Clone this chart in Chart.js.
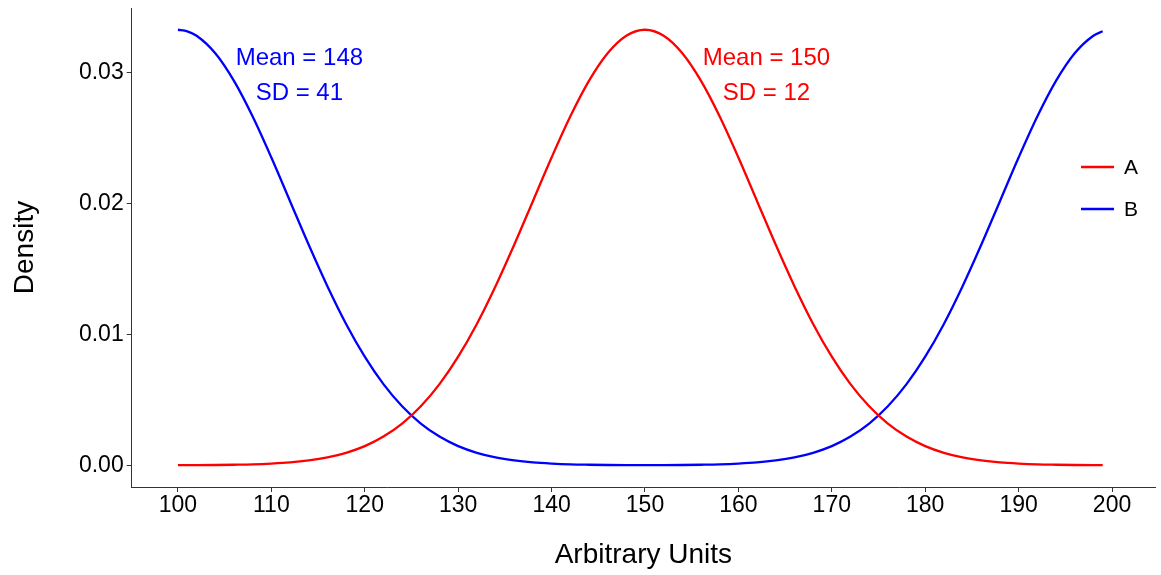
<!DOCTYPE html>
<html>
<head>
<meta charset="utf-8">
<script src="https://cdn.jsdelivr.net/npm/chart.js@4.4.1/dist/chart.umd.min.js"></script>
<style>
  html, body { margin: 0; padding: 0; background: #fff; }
  #wrap { width: 1161px; height: 575px; }
</style>
</head>
<body>
<div id="wrap"><canvas id="density-chart" width="1161" height="575"></canvas></div>
<script>
const FONT = "Arial, 'Liberation Sans', Helvetica, sans-serif";

// x positions shared by both curves
const xValues = [100, 101, 102, 104, 106, 108, 110, 112, 114, 116, 118, 120, 122, 124, 126, 128, 130, 132, 134, 136, 138, 140, 142, 144, 146, 148,
  150, 152, 154, 156, 158, 160, 162, 164, 166, 168, 170, 172, 174, 176, 178, 180, 182, 184, 186, 188, 190, 192, 194, 196, 198, 199];

// group A: single peak in the middle
const densityA = [0.00001, 0.00001, 0.00001, 0.00002, 0.00004, 0.00007, 0.00013, 0.00022, 0.00037, 0.00060, 0.00095, 0.00146, 0.00219, 0.00318, 0.00450, 0.00619, 0.00829, 0.01079, 0.01367, 0.01683, 0.02016, 0.02349, 0.02662, 0.02934, 0.03145, 0.03279,
  0.03325, 0.03279, 0.03145, 0.02934, 0.02662, 0.02349, 0.02016, 0.01683, 0.01367, 0.01079, 0.00829, 0.00619, 0.00450, 0.00318, 0.00219, 0.00146, 0.00095, 0.00060, 0.00037, 0.00022, 0.00013, 0.00007, 0.00004, 0.00002, 0.00001, 0.00001];

// group B: mass piled at both ends
const densityB = [0.03325, 0.03313, 0.03279, 0.03145, 0.02934, 0.02662, 0.02349, 0.02016, 0.01683, 0.01367, 0.01079, 0.00829, 0.00619, 0.00450, 0.00318, 0.00219, 0.00146, 0.00095, 0.00060, 0.00037, 0.00022, 0.00013, 0.00007, 0.00004, 0.00002, 0.00001,
  0.00001, 0.00001, 0.00002, 0.00004, 0.00007, 0.00013, 0.00022, 0.00037, 0.00060, 0.00095, 0.00146, 0.00219, 0.00318, 0.00450, 0.00619, 0.00829, 0.01079, 0.01367, 0.01683, 0.02016, 0.02349, 0.02662, 0.02934, 0.03145, 0.03279, 0.03313];

const seriesNames = ["A", "B"];
const seriesColors = ["#ff0000", "#0000ff"];

// summary text written next to each curve
const summaryLines = [
  ["Mean = 150", "SD = 12"],
  ["Mean = 148", "SD = 41"]
];
const summaryAt = [
  { x: 163, y: 0.0311 },
  { x: 113, y: 0.0311 }
];

const xTicks = [100, 110, 120, 130, 140, 150, 160, 170, 180, 190, 200];
const yTicks = [0, 0.01, 0.02, 0.03];

const toPoints = ys => xValues.map((x, i) => ({ x, y: ys[i] }));

// text labels and the small legend on the right
const overlay = {
  id: "overlay",
  afterDatasetsDraw(chart) {
    const { ctx, chartArea, scales } = chart;
    ctx.save();
    ctx.font = `24px ${FONT}`;
    ctx.textAlign = "center";
    ctx.textBaseline = "middle";
    summaryLines.forEach((lines, i) => {
      ctx.fillStyle = seriesColors[i];
      const px = scales.x.getPixelForValue(summaryAt[i].x);
      const py = scales.y.getPixelForValue(summaryAt[i].y);
      lines.forEach((t, j) => ctx.fillText(t, px, py + j * 35));
    });

    ctx.font = `21px ${FONT}`;
    ctx.textAlign = "left";
    seriesNames.forEach((name, i) => {
      const y = 167 + i * 42;
      const x0 = chartArea.right - 74;
      ctx.strokeStyle = seriesColors[i];
      ctx.lineWidth = 2.3;
      ctx.beginPath();
      ctx.moveTo(x0, y);
      ctx.lineTo(x0 + 33, y);
      ctx.stroke();
      ctx.fillStyle = "#000";
      ctx.fillText(name, x0 + 43, y + 1);
    });
    ctx.restore();
  }
};

new Chart(document.getElementById("density-chart").getContext("2d"), {
  type: "line",
  data: {
    datasets: seriesNames.map((name, i) => ({
      label: name,
      data: toPoints(i === 0 ? densityA : densityB),
      borderColor: seriesColors[i],
      borderWidth: 2.3,
      pointRadius: 0,
      cubicInterpolationMode: "monotone",
      fill: false
    }))
  },
  options: {
    responsive: false,
    animation: false,
    layout: { padding: { top: 8, right: 6, left: 0, bottom: 0 } },
    plugins: { legend: { display: false }, tooltip: { enabled: false } },
    scales: {
      x: {
        type: "linear",
        min: 95.05,
        max: 204.6,
        afterFit: s => { s.height = 88; s.paddingLeft = 0; s.paddingRight = 0; },
        afterBuildTicks: s => { s.ticks = xTicks.map(v => ({ value: v })); },
        grid: { drawOnChartArea: false, drawTicks: true, tickLength: 5, color: "#333", lineWidth: 1 },
        border: { display: true, color: "#333", width: 1 },
        ticks: { font: { family: FONT, size: 23 }, color: "#000", padding: 0, maxRotation: 0 },
        title: { display: true, text: "Arbitrary Units", font: { family: FONT, size: 28 }, color: "#000", padding: { top: 0, bottom: 3 } }
      },
      y: {
        min: -0.00166,
        max: 0.03491,
        afterFit: s => { s.width = 131.7; s.paddingTop = 0; s.paddingBottom = 0; },
        afterBuildTicks: s => { s.ticks = yTicks.map(v => ({ value: v })); },
        grid: { drawOnChartArea: false, drawTicks: true, tickLength: 5, color: "#333", lineWidth: 1 },
        border: { display: true, color: "#333", width: 1 },
        ticks: { font: { family: FONT, size: 23 }, color: "#000", padding: 3, callback: v => v.toFixed(2) },
        title: { display: true, text: "Density", font: { family: FONT, size: 28 }, color: "#000", padding: { top: 8, bottom: 0 } }
      }
    }
  },
  plugins: [overlay]
});
</script>
</body>
</html>
